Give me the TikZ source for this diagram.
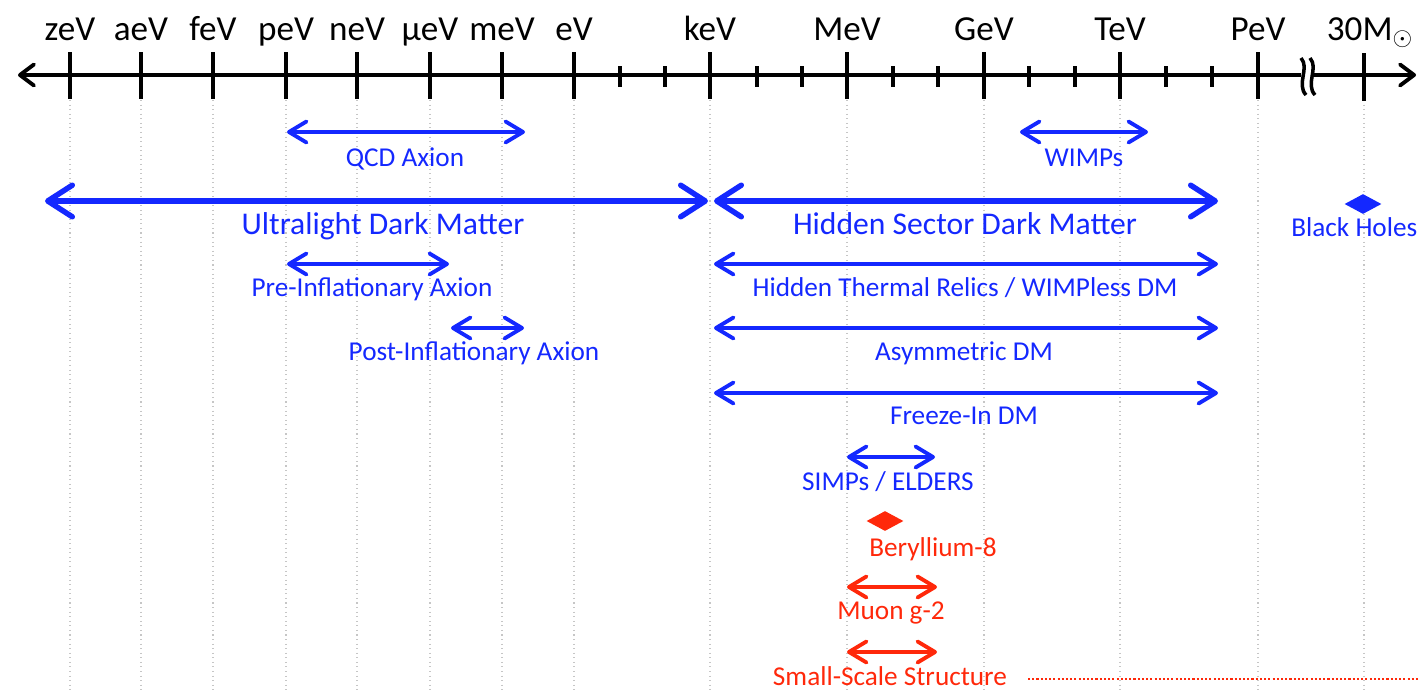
\documentclass[tikz,border=0pt]{standalone}
\usepackage{fontspec}
\setmainfont{Carlito}
\usetikzlibrary{arrows.meta,shapes.geometric}
\definecolor{dmblue}{RGB}{20,40,255}
\definecolor{dmred}{RGB}{255,40,10}
\tikzset{
  rng/.style={{Straight Barb[length=10pt,width=12pt,round]}-{Straight Barb[length=10pt,width=12pt,round]}, line width=2.2pt},
  rngbig/.style={{Straight Barb[length=14pt,width=18pt,round]}-{Straight Barb[length=14pt,width=18pt,round]}, line width=3.1pt},
  lab/.style={anchor=base, inner sep=0pt, font=\fontsize{15.5}{18}\selectfont},
  labbig/.style={anchor=base, inner sep=0pt, font=\fontsize{18}{21}\selectfont},
  axlab/.style={anchor=base, inner sep=0pt, font=\fontsize{20}{24}\selectfont},
  gem/.style={diamond, fill, inner sep=0pt, minimum width=0.74cm, minimum height=0.4cm}
}
\begin{document}
\begin{tikzpicture}[x=0.02cm, y=-0.02cm]
  \useasboundingbox (0,0) rectangle (1418,693);
  \foreach \x in {70,141,213,286,357,430,502,574,710,847,984,1120,1258,1364}
    \draw[gray!45, dotted, line width=0.6pt] (\x,100) -- (\x,693);
  \coordinate (ax-l) at (18,75);
  \coordinate (ax-r) at (1416,75);
  \draw[line width=2.2pt, {Straight Barb[length=8pt,width=12pt,round]}-{Straight Barb[length=8pt,width=12pt,round]}] (ax-l) -- (ax-r);
  \foreach \x/\lab in {70/zeV,141/aeV,213/feV,286/peV,357/neV,430/μeV,502/meV,574/eV,710/keV,847/MeV,984/GeV,1120/TeV,1258/PeV}{
    \draw[line width=2pt] (\x,52) -- (\x,99);
    \node[axlab] (t-\lab) at (\x,40) {\lab};
  }
  \draw[line width=2pt] (1364,53) -- (1364,101);
  \node[axlab] (t-sun) at (1370,40) {30M$_{\odot}$};
  \foreach \x in {620,665,757,802,893,938,1029,1075,1166,1212}
    \draw[line width=2pt] (\x,66) -- (\x,87);
  \fill[white] (1301,68) rectangle (1314,82);
  \foreach \x in {1303,1312}
    \draw[line width=2pt] (\x-2,58) .. controls (\x+7,68) and (\x-7,84) .. (\x+3,95);
  \foreach \nm/\xa/\xb/\y in {ultra/45/708/201, hidden/714/1218/201}{
    \coordinate (\nm-l) at (\xa,\y);
    \coordinate (\nm-r) at (\xb,\y);
    \draw[rngbig, dmblue] (\nm-l) -- (\nm-r);
  }
  \foreach \nm/\xa/\xb/\y in {qcd/287/525/132, wimp/1020/1148/132, pre/287/449/264, htr/714/1218/264, post/451/524/328, asym/714/1218/328, frz/714/1218/393, simp/847/935/457}{
    \coordinate (\nm-l) at (\xa,\y);
    \coordinate (\nm-r) at (\xb,\y);
    \draw[rng, dmblue] (\nm-l) -- (\nm-r);
  }
  \foreach \nm/\xa/\xb/\y in {muon/847/937/587, sss/847/937/652}{
    \coordinate (\nm-l) at (\xa,\y);
    \coordinate (\nm-r) at (\xb,\y);
    \draw[rng, dmred] (\nm-l) -- (\nm-r);
  }
  \node[labbig, dmblue] (ultra) at (383,234) {Ultralight Dark Matter};
  \node[labbig, dmblue] (hidden) at (965,234) {Hidden Sector Dark Matter};
  \foreach \nm/\x/\y/\txt in {qcd/405/166/QCD Axion, wimp/1084/166/WIMPs, pre/372/296/Pre-Inflationary Axion, htr/965/296/{Hidden Thermal Relics / WIMPless DM}, post/474/360/Post-Inflationary Axion, asym/964/360/Asymmetric DM, frz/964/424/Freeze-In DM, simp/888/490/{SIMPs / ELDERS}}
    \node[lab, dmblue] (\nm) at (\x,\y) {\txt};
  \node[gem, dmblue] (bh-gem) at (1363,204) {};
  \node[lab, dmblue, anchor=base west] (bh) at (1291,236) {Black Holes};
  \node[gem, dmred] (be-gem) at (885,521) {};
  \foreach \nm/\x/\y/\txt in {be/933/556/Beryllium-8, muon/891/619/Muon g-2, sss/890/685/Small-Scale Structure}
    \node[lab, dmred] (\nm) at (\x,\y) {\txt};
  \coordinate (sss-a) at (1028,679);
  \coordinate (sss-b) at (1418,679);
  \draw[dmred, line width=1.3pt, dash pattern=on 1.2pt off 1.2pt] (sss-a) -- (sss-b);
\end{tikzpicture}
\end{document}
